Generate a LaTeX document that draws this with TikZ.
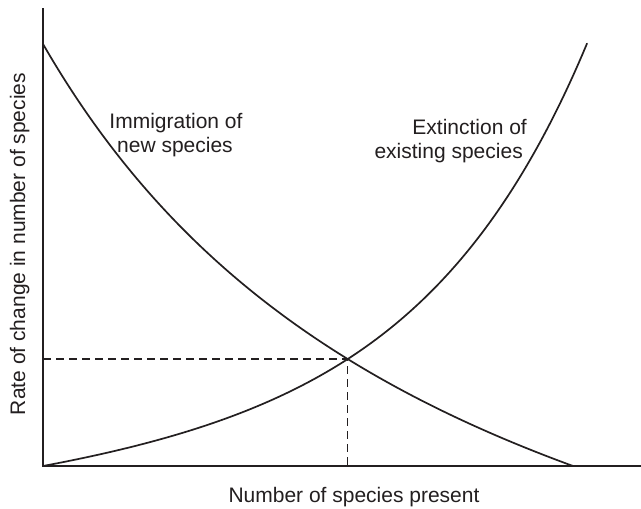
\documentclass[tikz,border=0pt]{standalone}
\usepackage{fontspec}
\usetikzlibrary{intersections}
\setmainfont{Liberation Sans}
\definecolor{ink}{HTML}{231F20}
\begin{document}
\begin{tikzpicture}[x=1pt,y=-1pt,
  axis/.style={draw=ink,line width=1.2pt},
  curve/.style={draw=ink,line width=1.7pt,line cap=round},
  guide/.style={draw=ink,line width=1.1pt,dash pattern=on 8pt off 5pt},
  lbl/.style={text=ink,inner sep=0pt,font=\fontsize{21}{24}\selectfont}]
\useasboundingbox[fill=white] (0,0) rectangle (641,509);
% axes
\coordinate (origin) at (43,466);
\coordinate (ytop) at (43,8);
\coordinate (xend) at (641,466);
\draw[axis] (ytop) -- (origin) -- (xend);
% immigration curve
\draw[curve,name path=imm] plot[domain=43:573,samples=120,smooth]
  (\x,{466-(3511.4/((\x+407)/100)-358.3)});
% extinction curve
\draw[curve,name path=ext] plot[domain=43:587,samples=120,smooth]
  (\x,{466-(14.66*(exp(0.006*(\x-43))-1)+0.1*(\x-43))});
% equilibrium point and guides
\path[name intersections={of=imm and ext,by=eq}];
\coordinate (eqy) at (eq -| origin);
\coordinate (eqx) at (eq |- origin);
\draw[guide] (eqy) -- (eq) -- (eqx);
% labels
\node[lbl,anchor=base] (imm1) at (176,128) {Immigration of};
\node[lbl,anchor=base] (imm2) at (175,152) {new species};
\node[lbl,anchor=base east] (ext1) at (527,134) {Extinction of};
\node[lbl,anchor=base east] (ext2) at (523,158) {existing species};
\node[lbl,anchor=base,rotate=90] (ylab) at (25,244) {Rate of change in number of species};
\node[lbl,anchor=base] (xlab) at (354,502) {Number of species present};
\end{tikzpicture}
\end{document}
